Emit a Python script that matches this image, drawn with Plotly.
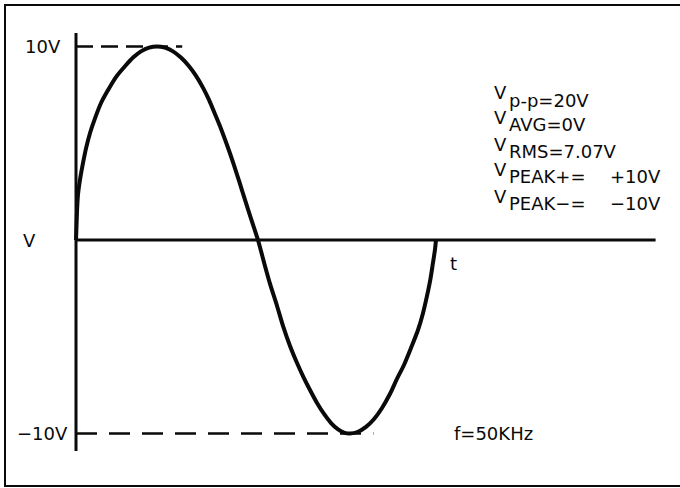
import plotly.graph_objects as go

# One cycle of the 50 kHz waveform, traced as time (µs) / voltage (V) pairs
t_us = [0.0, 0.03, 0.06, 0.11, 0.22, 0.39, 0.56, 0.78, 1.06, 1.39, 1.78,
        2.22, 2.72, 3.17, 3.61, 4.06, 4.5, 4.94, 5.39, 5.83, 6.28, 6.67,
        7.06, 7.39, 7.72, 8.06, 8.39, 8.72, 9.06, 9.39, 9.75, 10.11, 10.44,
        10.78, 11.17, 11.5, 11.89, 12.28, 12.61, 13.0, 13.39, 13.78, 14.17,
        14.56, 14.89, 15.22, 15.67, 16.11, 16.56, 17.0, 17.44, 17.83, 18.22,
        18.61, 19.0, 19.28, 19.5, 19.69, 19.83, 19.94, 20.0]
volts = [0.0, 0.78, 1.55, 2.33, 3.1, 3.98, 4.75, 5.53, 6.3, 7.08, 7.75,
         8.42, 8.98, 9.43, 9.75, 9.94, 10.0, 9.94, 9.75, 9.43, 8.98, 8.48,
         7.86, 7.24, 6.51, 5.74, 4.91, 4.03, 3.05, 2.07, 1.03, 0.0, -1.14,
         -2.27, -3.41, -4.44, -5.48, -6.36, -7.03, -7.75, -8.42, -8.99, -9.46,
         -9.79, -9.95, -10.0, -9.91, -9.66, -9.25, -8.68, -7.96, -7.18, -6.46,
         -5.58, -4.65, -3.77, -2.89, -2.02, -1.19, -0.52, 0.0]

V_PEAK_POS = 10
V_PEAK_NEG = -10
T_PEAK_POS = 4.5
T_PEAK_NEG = 15.22

# Parameter block
param_subs = ["p-p=20V", "AVG=0V", "RMS=7.07V", "PEAK+=", "PEAK\u2212="]
peak_values = ["+10V", "\u221210V"]
freq_label = "f=50KHz"

# Axis extents (data units)
T_AXIS_END = 32.2
V_AXIS_TOP = 10.7
V_AXIS_BOTTOM = -10.9

W, H = 680, 488
FONT = "DejaVu Sans"
INK = "#0a0a0a"

fig = go.Figure()

fig.add_trace(go.Scatter(
    x=t_us, y=volts, mode="lines",
    line=dict(color=INK, width=4, shape="spline", smoothing=0.8),
    hoverinfo="skip", showlegend=False,
))

# Axes drawn as lines in the data coordinate system
fig.add_shape(type="line", xref="x", yref="y", x0=0, x1=0,
              y0=V_AXIS_BOTTOM, y1=V_AXIS_TOP, line=dict(color=INK, width=3))
fig.add_shape(type="line", xref="x", yref="y", x0=0, x1=T_AXIS_END,
              y0=0, y1=0, line=dict(color=INK, width=3))

# Dashed peak reference lines
fig.add_shape(type="line", xref="x", yref="y", x0=0, x1=T_PEAK_POS + 1.4,
              y0=V_PEAK_POS, y1=V_PEAK_POS,
              line=dict(color=INK, width=2.5, dash="17px,8px"))
fig.add_shape(type="line", xref="x", yref="y", x0=0, x1=T_PEAK_NEG + 1.3,
              y0=V_PEAK_NEG, y1=V_PEAK_NEG,
              line=dict(color=INK, width=2.5, dash="21px,12px"))

# Frame (open on the right edge)
fig.add_shape(type="path", xref="paper", yref="paper",
              path="M 1.1 {top} L {left} {top} L {left} {bot} L 1.1 {bot}".format(
                  top=1 - 5 / H, bot=2 / H, left=5 / W),
              line=dict(color=INK, width=2))

font = dict(family=FONT, size=18, color=INK)


def px_x(p):
    return p / W


def px_y(p):
    return 1 - p / H


ann = []
ann.append(dict(text="10V", xref="paper", yref="y", x=px_x(63), y=V_PEAK_POS,
                xanchor="right", yanchor="middle"))
ann.append(dict(text="\u221210V", xref="paper", yref="y", x=px_x(70), y=V_PEAK_NEG,
                xanchor="right", yanchor="middle"))
ann.append(dict(text="V", xref="paper", yref="y", x=px_x(29), y=0,
                xanchor="center", yanchor="middle"))
ann.append(dict(text="t", xref="paper", yref="paper", x=px_x(453), y=px_y(263),
                xanchor="center", yanchor="middle"))
ann.append(dict(text=freq_label, xref="paper", yref="y", x=px_x(452), y=V_PEAK_NEG,
                xanchor="left", yanchor="middle"))

row_mid = [100, 125, 151.5, 176.5, 203.5]
for i, sub in enumerate(param_subs):
    ann.append(dict(text="V", xref="paper", yref="paper", x=px_x(492),
                    y=px_y(row_mid[i] - 7.5), xanchor="left", yanchor="middle"))
    ann.append(dict(text=sub, xref="paper", yref="paper", x=px_x(507),
                    y=px_y(row_mid[i]), xanchor="left", yanchor="middle"))
for i, val in enumerate(peak_values):
    ann.append(dict(text=val, xref="paper", yref="paper", x=px_x(663),
                    y=px_y(row_mid[3 + i]), xanchor="right", yanchor="middle"))

for a in ann:
    a.update(showarrow=False, font=font)

# Ranges chosen so t=0 sits at x=76px (18 px/µs) and V=0 at y=240px (19.35 px/V)
X0, XS = 76, 18.0
Y0, YS = 240, 19.35
fig.update_layout(
    width=W, height=H,
    margin=dict(l=0, r=0, t=0, b=0),
    paper_bgcolor="white", plot_bgcolor="white",
    xaxis=dict(visible=False, range=[-X0 / XS, (W - X0) / XS], fixedrange=True),
    yaxis=dict(visible=False, range=[-(H - Y0) / YS, Y0 / YS], fixedrange=True),
    annotations=ann,
)

fig.write_html("out.html")
